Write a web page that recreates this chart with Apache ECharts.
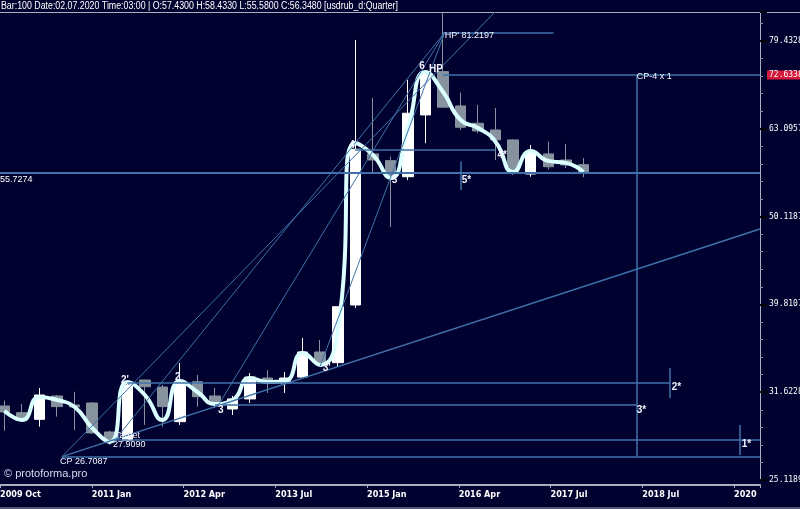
<!DOCTYPE html>
<html>
<head>
<meta charset="utf-8">
<script src="https://cdn.jsdelivr.net/npm/echarts@6/dist/echarts.min.js"></script>
<style>
  html, body { margin: 0; padding: 0; background: #01012f; }
  #chart { width: 800px; height: 509px; }
</style>
</head>
<body>
<div id="chart"></div>
<script>
// quarterly bars, one entry per bar (bar index = position in the array)
const opens  = [30.50, 29.97, 29.45, 31.31, 30.58, 30.74, 28.49, 27.85, 32.65, 32.05, 29.27, 32.50, 31.31, 30.26, 31.07, 32.82, 32.39, 32.90, 35.14, 34.17, 39.75, 59.07, 58.04, 55.64, 65.43, 73.30, 66.99, 64.02, 62.90, 61.28, 56.04, 59.07, 58.14, 57.43];
const closes = [30.03, 29.40, 31.39, 30.45, 30.42, 28.42, 27.91, 32.22, 32.08, 30.45, 32.50, 31.25, 30.74, 31.07, 32.90, 32.39, 32.82, 35.14, 34.14, 39.57, 59.80, 58.14, 55.64, 65.72, 73.30, 66.77, 63.35, 62.74, 61.28, 56.14, 59.43, 57.12, 57.38, 56.348];
const lows   = [28.59, 29.25, 28.89, 29.66, 28.64, 28.35, 27.54, 27.76, 29.02, 28.89, 29.02, 30.45, 30.34, 29.79, 30.74, 31.56, 31.56, 32.90, 33.87, 33.78, 39.44, 56.28, 48.76, 55.16, 60.75, 66.77, 62.90, 62.37, 58.14, 55.90, 55.64, 56.73, 56.93, 55.58];
const highs  = [30.93, 30.66, 31.97, 31.39, 31.66, 30.82, 28.59, 32.39, 32.65, 32.22, 34.14, 33.08, 31.97, 31.31, 33.25, 33.51, 33.34, 36.46, 36.27, 39.57, 79.64, 68.41, 58.65, 71.72, 73.60, 85.50, 69.37, 67.17, 66.64, 61.40, 60.48, 61.01, 60.64, 58.433];
// smoothed wave
const curve  = [30.11, 29.40, 31.23, 30.98, 30.42, 28.79, 27.76, 32.48, 31.39, 29.40, 32.56, 31.64, 30.66, 30.98, 32.82, 32.48, 32.56, 35.05, 33.96, 37.23, 60.80, 58.91, 55.45, 63.23, 73.24, 69.50, 64.57, 63.23, 60.96, 56.34, 59.54, 58.00, 57.70, 56.34];

const xLabels = ['2009 Oct', '2011 Jan', '2012 Apr', '2013 Jul', '2015 Jan', '2016 Apr', '2017 Jul', '2018 Jul', '2020'];
const yTickLabels = ['25.1189', '31.6228', '39.8107', '50.1187', '63.0957', '79.4328'];

// horizontal levels: price, from bar, to bar (null = chart edge)
const levelPrice = [55.7274, 72.6338, 81.2197, 32.40, 30.58, 27.909, 26.7087, 59.75];
const levelFrom  = [null, 25, 25, 7, 12, 6.2, 3.28, 20];
const levelTo    = [null, null, 31.3, 37.94, 36.06, null, null, 28];

// vertical markers: bar, top price, bottom price
const vBar    = [36.06, 37.94, 41.93, 26.03];
const vTop    = [72.6338, 33.69, 29.02, 57.9];
const vBottom = [26.7087, 31.15, 26.82, 53.73];

// trend / fan lines: [bar, price] -> [bar, price]
const trendFrom = [[3.28, 26.7087], [3.28, 26.7087], [18, 33.87], [6.3, 27.909], [12.2, 30.58]];
const trendTo   = [[43.07, 48.52], [27.96, 85.7], [25.1, 81.2197], [25.1, 81.2197], [25.1, 81.2197]];

// text notes
const noteText  = ["2'", '2', '3', "3'", '4', '5', '5*', '6', 'HP', "HP' 81.2197", '4*', 'CP-4 x 1', '2*', '3*', '1*', 'Target', '27.9090', 'CP 26.7087'];
const noteBar   = [6.64, 9.72, 12.17, 18.14, 19.65, 22.08, 26.07, 23.65, 24.2, 25.1, 28.1, 36.04, 38.04, 36.04, 42.03, 6.3, 6.19, 3.16];
const notePrice = [32.65, 32.90, 30.18, 33.69, 60.48, 55.08, 55.16, 74.27, 73.82, 80.55, 58.91, 72.28, 32.05, 30.18, 27.61, 28.19, 27.54, 26.40];

const xMin = -0.257, xMax = 43.07;
const yMin = 1.4, yMax = 1.933;
const lg = v => Math.log10(v);
const lineColor = '#3f72aa';
const sans = '"Liberation Sans", Arial, sans-serif';

const candles = opens.map((o, i) => [i, lg(o), lg(closes[i]), lg(lows[i]), lg(highs[i])]);
const wave = curve.map((v, i) => [i, lg(v)]);

const levelLines = levelPrice.map((p, i) => {
  if (levelFrom[i] === null) {
    return {
      yAxis: lg(p),
      lineStyle: { width: 2 },
      label: { show: true, position: 'insideStartBottom', distance: [0, 2], padding: 0, formatter: p.toFixed(4), color: '#ffffff', fontFamily: sans, fontSize: 9 }
    };
  }
  const seg = [
    { coord: [levelFrom[i], lg(p)] },
    { coord: [levelTo[i] === null ? xMax : levelTo[i], lg(p)] }
  ];
  if (p === 72.6338) {
    seg[0].label = {
      show: true, position: 'end', distance: 7, formatter: p.toFixed(4),
      color: '#ffffff', backgroundColor: '#d61a3c', padding: [1, 2, 0, 2],
      fontFamily: 'DejaVu Sans Mono', fontSize: 8
    };
  }
  return seg;
});
const vLines = vBar.map((b, i) => [{ coord: [b, lg(vTop[i])] }, { coord: [b, lg(vBottom[i])] }]);
const trendLines = trendFrom.map((f, i) => [
  { coord: [f[0], lg(f[1])], lineStyle: { width: i === 0 ? 1.5 : 1 } },
  { coord: [trendTo[i][0], lg(trendTo[i][1])] }
]);

const notes = noteText.map((t, i) => ({
  coord: [noteBar[i], lg(notePrice[i])],
  symbolSize: 0,
  label: {
    show: true, position: 'right', distance: 0, formatter: t,
    color: '#f4f4ff', fontFamily: sans,
    fontSize: t.length <= 2 ? 10 : 9, fontWeight: t.length <= 2 ? 'bold' : 'normal'
  }
}));

const last = opens.length - 1;
const header = 'Bar:100 Date:02.07.2020 Time:03:00 | O:' + opens[last].toFixed(4) +
  ' H:' + highs[last].toFixed(4) + ' L:' + lows[last].toFixed(4) +
  ' C:' + closes[last].toFixed(4) + ' [usdrub_d:Quarter]';

// squeeze header text to the narrow width it has in the terminal
const headerFont = '10px ' + sans;
const ctx = document.createElement('canvas').getContext('2d');
ctx.font = headerFont;
const headerScale = 397 / ctx.measureText(header).width;

const chart = echarts.init(document.getElementById('chart'), null, { renderer: 'canvas' });
chart.setOption({
  backgroundColor: '#01012f',
  animation: false,
  grid: { left: 0, right: 40, top: 12, bottom: 29, outerBoundsMode: 'none', containLabel: false },
  xAxis: [
    { type: 'value', min: xMin, max: xMax, show: false },
    {
      type: 'value', position: 'bottom', offset: 5, min: 0, max: 760 / 91.75, interval: 1,
      axisLine: { show: true, onZero: false, lineStyle: { color: '#a9b0bf', width: 2 } },
      axisTick: { show: true, length: 3, lineStyle: { color: '#a9b0bf' } },
      splitLine: { show: false },
      showMaxLabel: false,
      axisLabel: {
        align: 'left', margin: 5, color: '#ffffff', fontFamily: '"DejaVu Sans Condensed", ' + sans, fontWeight: 'bold', fontSize: 9,
        formatter: v => (Math.abs(v - Math.round(v)) < 1e-6 ? xLabels[Math.round(v)] : '')
      }
    }
  ],
  yAxis: {
    type: 'value', position: 'right', min: yMin, max: yMax, interval: 0.1,
    axisLine: { show: true, onZero: false, lineStyle: { color: '#a9b0bf', width: 1 } },
    axisTick: { show: true, length: 7, lineStyle: { color: '#000000', width: 2 } },
    minorTick: { show: true, splitNumber: 5, length: 3, lineStyle: { color: '#8c93a3' } },
    splitLine: { show: false },
    showMaxLabel: false,
    axisLabel: {
      margin: 9, color: '#ffffff', fontFamily: 'DejaVu Sans Mono', fontSize: 8,
      formatter: v => {
        const k = Math.round((v - yMin) * 10);
        return Math.abs(v - yMin - k / 10) < 1e-6 ? yTickLabels[k] : '';
      }
    }
  },
  series: [
    {
      name: 'levels', type: 'line', data: [], z: 1, silent: true,
      markLine: {
        silent: true, symbol: ['none', 'none'], animation: false,
        lineStyle: { color: lineColor, width: 1.5, type: 'solid' },
        label: { show: false },
        data: levelLines.concat(vLines, trendLines)
      }
    },
    {
      name: 'usdrub', type: 'candlestick', z: 3, barWidth: 11,
      encode: { x: 0, y: [1, 2, 3, 4] },
      itemStyle: { color: '#ffffff', color0: '#86929d', borderColor: '#ffffff', borderColor0: '#86929d', borderWidth: 1 },
      data: candles
    },
    {
      name: 'wave', type: 'line', z: 4, smooth: 0.55, symbol: 'none',
      lineStyle: { color: '#dcffff', width: 4 },
      data: wave
    },
    {
      name: 'notes', type: 'line', data: [], z: 6, silent: true,
      markPoint: { silent: true, symbol: 'circle', animation: false, data: notes }
    }
  ],
  graphic: [
    { type: 'line', shape: { x1: 0, y1: 12.5, x2: 800, y2: 12.5 }, style: { stroke: '#a9b0bf', lineWidth: 1 } },
    { type: 'line', shape: { x1: 0, y1: 508, x2: 800, y2: 508 }, style: { stroke: '#a9b0bf', lineWidth: 1 } },
    { type: 'text', x: 1, y: 1, scaleX: headerScale, style: { text: header, fill: '#ffffff', font: headerFont } },
    { type: 'text', x: 4, y: 468, style: { text: '\u00a9 protoforma.pro', fill: '#d8dcef', font: '11px ' + sans } }
  ]
});
</script>
</body>
</html>
